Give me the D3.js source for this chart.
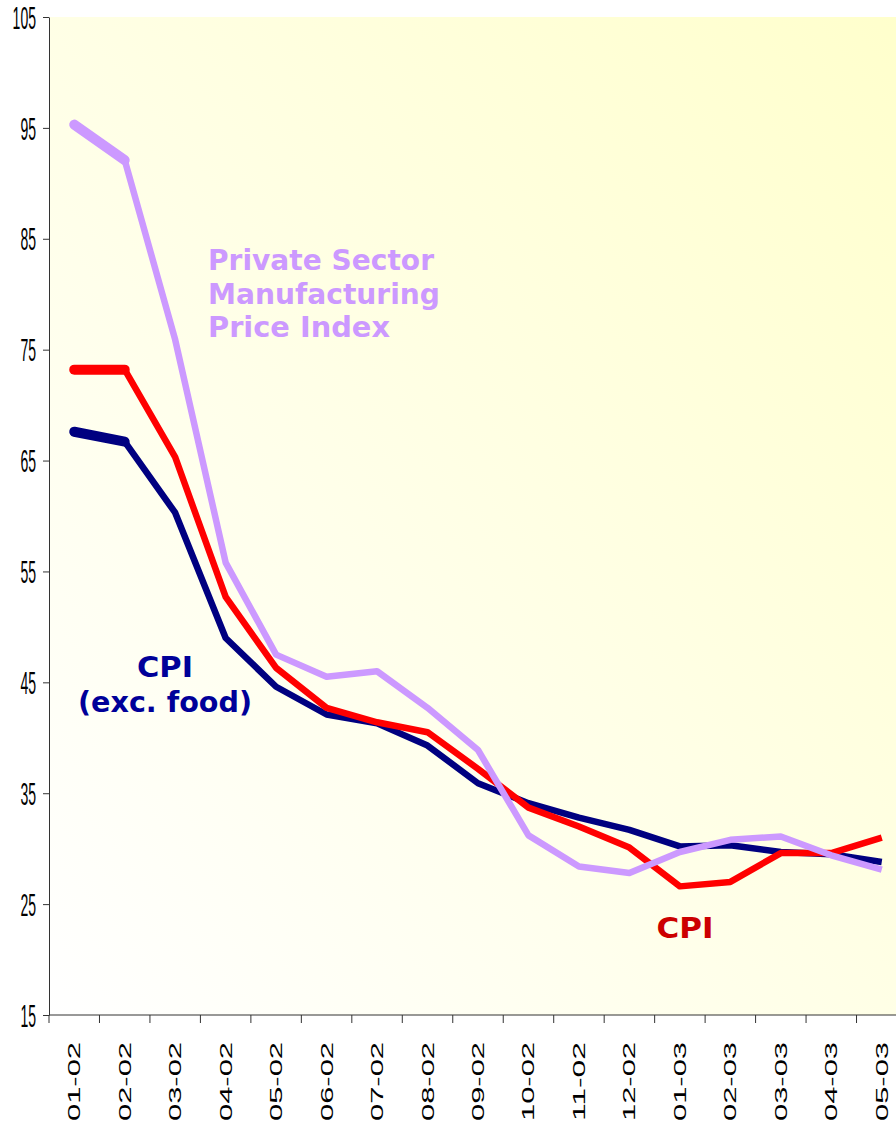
<!DOCTYPE html>
<html>
  <head>
    <meta charset="utf-8">
    <title>Price indices</title>
    <script src="https://d3js.org/d3.v7.min.js"></script>
    <style>
      body { margin: 0; background: #fff; }
      svg { display: block; }
    </style>
  </head>
  <body>
    <div id="chart"></div>
    <script>
      // data
      const months = ["01-02", "02-02", "03-02", "04-02", "05-02", "06-02", "07-02", "08-02", "09-02",
                      "10-02", "11-02", "12-02", "01-03", "02-03", "03-03", "04-03", "05-03"];
      const privateMfg = [95.3, 92.1, 75.9, 55.8, 47.5, 45.5, 46.0, 42.7, 38.9,
                          31.2, 28.4, 27.8, 29.7, 30.8, 31.1, 29.4, 28.1];
      const cpi = [73.2, 73.2, 65.3, 52.7, 46.3, 42.7, 41.4, 40.5, 37.2,
                   33.7, 32.0, 30.1, 26.6, 27.0, 29.6, 29.6, 31.0];
      const cpiExFood = [67.6, 66.7, 60.3, 49.0, 44.6, 42.1, 41.3, 39.3, 35.9,
                         34.1, 32.8, 31.7, 30.2, 30.3, 29.7, 29.5, 28.8];
      const yTicks = [15, 25, 35, 45, 55, 65, 75, 85, 95, 105];

      const width = 896, height = 1126;
      // the plot runs past the right edge of the picture, as in the original
      const margin = { top: 17, right: -11, bottom: 111, left: 49 };

      const svg = d3.select("#chart").append("svg")
        .attr("width", width)
        .attr("height", height);

      // background gradient, white bottom-left to pale yellow top-right
      const grad = svg.append("defs").append("linearGradient")
        .attr("id", "bg")
        .attr("x1", 0).attr("y1", 1).attr("x2", 1).attr("y2", 0);
      grad.append("stop").attr("offset", "0%").attr("stop-color", "#ffffff");
      grad.append("stop").attr("offset", "100%").attr("stop-color", "#ffffcc");

      const x = d3.scaleBand()
        .domain(months)
        .range([margin.left, width - margin.right]);
      const y = d3.scaleLinear()
        .domain([15, 105])
        .range([height - margin.bottom, margin.top]);

      svg.append("rect")
        .attr("x", margin.left)
        .attr("y", margin.top)
        .attr("width", width - margin.left - margin.right)
        .attr("height", height - margin.top - margin.bottom)
        .attr("fill", "url(#bg)");

      // y axis
      const yAxis = svg.append("g")
        .attr("transform", "translate(" + margin.left + ",0)")
        .call(d3.axisLeft(y).tickValues(yTicks).tickSize(6).tickSizeOuter(0).tickPadding(7));
      yAxis.select(".domain").attr("stroke", "#333");
      yAxis.selectAll(".tick line").attr("stroke", "#333");
      yAxis.selectAll(".tick text")
        .attr("font-family", "'Liberation Sans', Arial, sans-serif")
        .attr("font-size", 31)
        .attr("fill", "#000")
        .attr("dy", "0.36em")
        .attr("lengthAdjust", "spacingAndGlyphs")
        .attr("textLength", function(d) { return String(d).length * 7.8; });

      // x axis, ticks on band edges
      const xAxisG = svg.append("g")
        .attr("transform", "translate(0," + y(15) + ")");
      xAxisG.append("line")
        .attr("x1", margin.left).attr("x2", width)
        .attr("stroke", "#333");
      xAxisG.selectAll(".edge")
        .data(months)
        .enter().append("line")
          .attr("class", "edge")
          .attr("x1", function(d) { return x(d); })
          .attr("x2", function(d) { return x(d); })
          .attr("y1", 0).attr("y2", 8)
          .attr("stroke", "#333");
      xAxisG.selectAll(".lbl")
        .data(months)
        .enter().append("text")
          .attr("class", "lbl")
          .attr("transform", function(d) {
            return "translate(" + (x(d) + x.bandwidth() / 2 + 6) + ",27) rotate(-90)";
          })
          .attr("text-anchor", "end")
          .attr("font-family", "'Liberation Sans', Arial, sans-serif")
          .attr("font-size", 16)
          .attr("fill", "#000")
          .attr("lengthAdjust", "spacingAndGlyphs")
          .attr("textLength", 79)
          .text(function(d) { return d; });

      // lines
      const series = [
        { name: "cpiExFood", values: cpiExFood, color: "#000080" },
        { name: "cpi", values: cpi, color: "#ff0000" },
        { name: "privateMfg", values: privateMfg, color: "#cc99ff" }
      ];
      const line = d3.line()
        .x(function(d, i) { return x(months[i]) + x.bandwidth() / 2; })
        .y(function(d) { return y(d); });

      series.forEach(function(s) {
        svg.append("path")
          .attr("d", line(s.values))
          .attr("fill", "none")
          .attr("stroke", s.color)
          .attr("stroke-width", 6.5)
          .attr("stroke-linejoin", "round");
        // first segment drawn heavier, as in the original
        svg.append("path")
          .attr("d", line(s.values.slice(0, 2)))
          .attr("fill", "none")
          .attr("stroke", s.color)
          .attr("stroke-width", 10)
          .attr("stroke-linecap", "round");
      });

      // series labels
      const labelFont = "Tahoma, 'DejaVu Sans', Verdana, sans-serif";
      function label(lines, color, anchor, xPos, baselines, lengths) {
        lines.forEach(function(t, i) {
          svg.append("text")
            .attr("x", xPos)
            .attr("y", baselines[i])
            .attr("text-anchor", anchor)
            .attr("font-family", labelFont)
            .attr("font-weight", "bold")
            .attr("font-size", 29)
            .attr("fill", color)
            .attr("lengthAdjust", "spacingAndGlyphs")
            .attr("textLength", lengths[i])
            .text(t);
        });
      }
      label(["Private Sector", "Manufacturing", "Price Index"], "#cc99ff", "start", 208,
            [270, 304, 337], [226, 232, 182]);
      label(["CPI", "(exc. food)"], "#000099", "middle", 165, [677, 712], [56, 174]);
      label(["CPI"], "#cc0000", "middle", 685, [938], [57]);
    </script>
  </body>
</html>
